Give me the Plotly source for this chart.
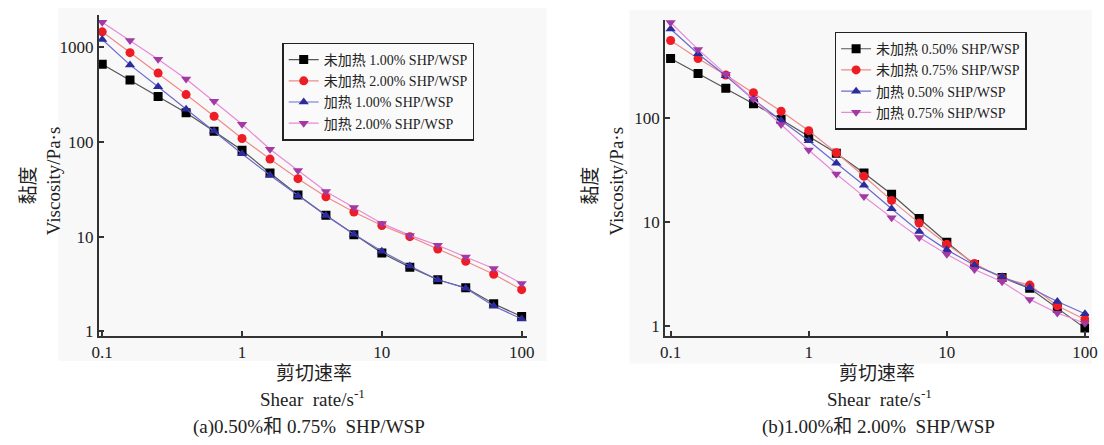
import plotly.graph_objects as go

W, H = 1104, 445

shear_rate = [0.1, 0.158, 0.251, 0.398, 0.631, 1, 1.585, 2.512, 3.981, 6.31,
              10, 15.85, 25.12, 39.81, 63.1, 100]

# Panel (a)
a_names = ["未加热 1.00% SHP/WSP", "未加热 2.00% SHP/WSP",
           "加热 1.00% SHP/WSP", "加热 2.00% SHP/WSP"]
a_unheated_1 = [664, 452, 302, 204, 130, 82, 47, 27.5, 16.8, 10.5, 6.7, 4.75, 3.5, 2.88, 1.95, 1.43]
a_unheated_2 = [1460, 880, 535, 317, 187, 109, 66, 41, 26.4, 18.2, 13.1, 10.0, 7.4, 5.5, 4.0, 2.75]
a_heated_1 = [1213, 653, 384, 222, 131, 75, 44.5, 27, 16.7, 10.6, 7.0, 4.9, 3.5, 2.85, 1.85, 1.35]
a_heated_2 = [1840, 1183, 750, 464, 270, 154, 84, 50, 30, 20.3, 13.8, 10.3, 8.1, 6.1, 4.6, 3.2]

# Panel (b)
b_names = ["未加热 0.50% SHP/WSP", "未加热 0.75% SHP/WSP",
           "加热 0.50% SHP/WSP", "加热 0.75% SHP/WSP"]
b_unheated_050 = [368, 265, 191, 136, 96, 66, 45.6, 29.4, 18.4, 10.8, 6.4, 3.9, 2.93, 2.31, 1.49, 0.96]
b_unheated_075 = [549, 368, 256, 173, 115, 75, 46, 27.4, 16.1, 9.75, 6.1, 4.0, 2.9, 2.48, 1.57, 1.16]
b_heated_050 = [708, 410, 252, 149, 94, 60, 36.6, 22.5, 13.4, 8.1, 5.4, 3.85, 2.98, 2.34, 1.73, 1.32]
b_heated_075 = [817, 451, 261, 151, 86, 49, 28.8, 17.5, 11.0, 7.1, 4.9, 3.5, 2.67, 1.81, 1.34, 1.07]

x_tickvals = [0.1, 1, 10, 100]
x_ticktext = ["0.1", "1", "10", "100"]
a_y_tickvals = [1, 10, 100, 1000]
a_y_ticktext = ["1", "10", "100", "1000"]
b_y_tickvals = [1, 10, 100]
b_y_ticktext = ["1", "10", "100"]

y_title_cn = "黏度"
y_title_en = "Viscosity/Pa·s"
x_title_cn = "剪切速率"
x_title_en = "Shear  rate/s<sup>-1</sup>"
cap_a = "(a)0.50%和 0.75%  SHP/WSP"
cap_b = "(b)1.00%和 2.00%  SHP/WSP"

styles = [
    dict(symbol="square", mcolor="#000000", lcolor="#555555"),
    dict(symbol="circle", mcolor="#ee1c24", lcolor="#f08a8a"),
    dict(symbol="triangle-up", mcolor="#2b2b9c", lcolor="#6a6ad0"),
    dict(symbol="triangle-down", mcolor="#a23aa6", lcolor="#e88ad8"),
]

SERIF = "Liberation Serif, Noto Sans CJK SC, serif"

fig = go.Figure()

for names, series, xa, ya, leg in [
    (a_names, [a_unheated_1, a_unheated_2, a_heated_1, a_heated_2], "x", "y", "legend"),
    (b_names, [b_unheated_050, b_unheated_075, b_heated_050, b_heated_075], "x2", "y2", "legend2"),
]:
    for name, vals, st in zip(names, series, styles):
        fig.add_trace(go.Scatter(
            x=shear_rate, y=vals, name=name, mode="lines+markers",
            xaxis=xa, yaxis=ya, legend=leg,
            line=dict(color=st["lcolor"], width=1.2),
            marker=dict(symbol=st["symbol"], color=st["mcolor"], size=9,
                        line=dict(width=0)),
        ))

def px_x(p):
    return p / W

def px_y(p):
    return 1 - p / H

axis_common = dict(
    type="log", showgrid=False, zeroline=False, showline=True,
    linecolor="#333333", linewidth=1.8, ticks="inside", ticklen=5,
    tickwidth=1.5, tickcolor="#333333", mirror=False,
    tickfont=dict(family=SERIF, size=17, color="#222222"),
)

fig.update_layout(
    width=W, height=H,
    margin=dict(l=0, r=0, t=0, b=0),
    paper_bgcolor="white",
    plot_bgcolor="rgba(0,0,0,0)",
    xaxis=dict(axis_common, domain=[px_x(93), px_x(527)], range=[-1.025, 2.037],
               anchor="y", tickmode="array", tickvals=x_tickvals, ticktext=x_ticktext),
    yaxis=dict(axis_common, domain=[px_y(340), px_y(15)], range=[-0.052, 3.344],
               anchor="x", tickmode="array", tickvals=a_y_tickvals, ticktext=a_y_ticktext),
    xaxis2=dict(axis_common, domain=[px_x(667), px_x(1097)], range=[-1.041, 2.03],
                anchor="y2", tickmode="array", tickvals=x_tickvals, ticktext=x_ticktext),
    yaxis2=dict(axis_common, domain=[px_y(340), px_y(20)], range=[-0.095, 2.938],
                anchor="x2", tickmode="array", tickvals=b_y_tickvals, ticktext=b_y_ticktext),
    legend=dict(x=px_x(279), y=px_y(43), xanchor="left", yanchor="top",
                bgcolor="#fafafa", bordercolor="#222222", borderwidth=1.5,
                font=dict(family=SERIF, size=14, color="#222222"),
                tracegroupgap=0, itemwidth=30),
    legend2=dict(x=px_x(839), y=px_y(32), xanchor="left", yanchor="top",
                 bgcolor="#fafafa", bordercolor="#222222", borderwidth=1.5,
                 font=dict(family=SERIF, size=14, color="#222222"),
                 tracegroupgap=0, itemwidth=30),
    showlegend=True,
)

shapes = []
for x0, x1, y0, y1 in [(52, 547, 8, 365), (631, 1100, 10, 368)]:
    shapes.append(dict(type="rect", xref="paper", yref="paper",
                       x0=px_x(x0), x1=px_x(x1), y0=px_y(y1), y1=px_y(y0),
                       fillcolor="#f8f8f8", line=dict(width=0), layer="below"))
fig.update_layout(shapes=shapes)

ann = []
def add_text(text, x, y, size, angle=0):
    ann.append(dict(text=text, x=px_x(x), y=px_y(y), xref="paper", yref="paper",
                    showarrow=False, xanchor="center", yanchor="middle",
                    textangle=angle, font=dict(family=SERIF, size=size, color="#222222")))

# panel a titles
add_text(y_title_cn, 22, 188, 19, -90)
add_text(y_title_en, 48, 183, 19, -90)
add_text(x_title_cn, 311, 378, 19)
add_text(x_title_en, 310, 403, 19)
add_text(cap_a, 306, 432, 19)
# panel b titles
add_text(y_title_cn, 592, 188, 19, -90)
add_text(y_title_en, 618, 183, 19, -90)
add_text(x_title_cn, 882, 378, 19)
add_text(x_title_en, 885, 403, 19)
add_text(cap_b, 884, 432, 19)

fig.update_layout(annotations=ann)

fig.write_html(
    "out.html",
    config={"displayModeBar": False},
    post_script="document.body.style.margin='0';document.body.style.padding='0';"
                "document.body.style.overflow='hidden';",
)
